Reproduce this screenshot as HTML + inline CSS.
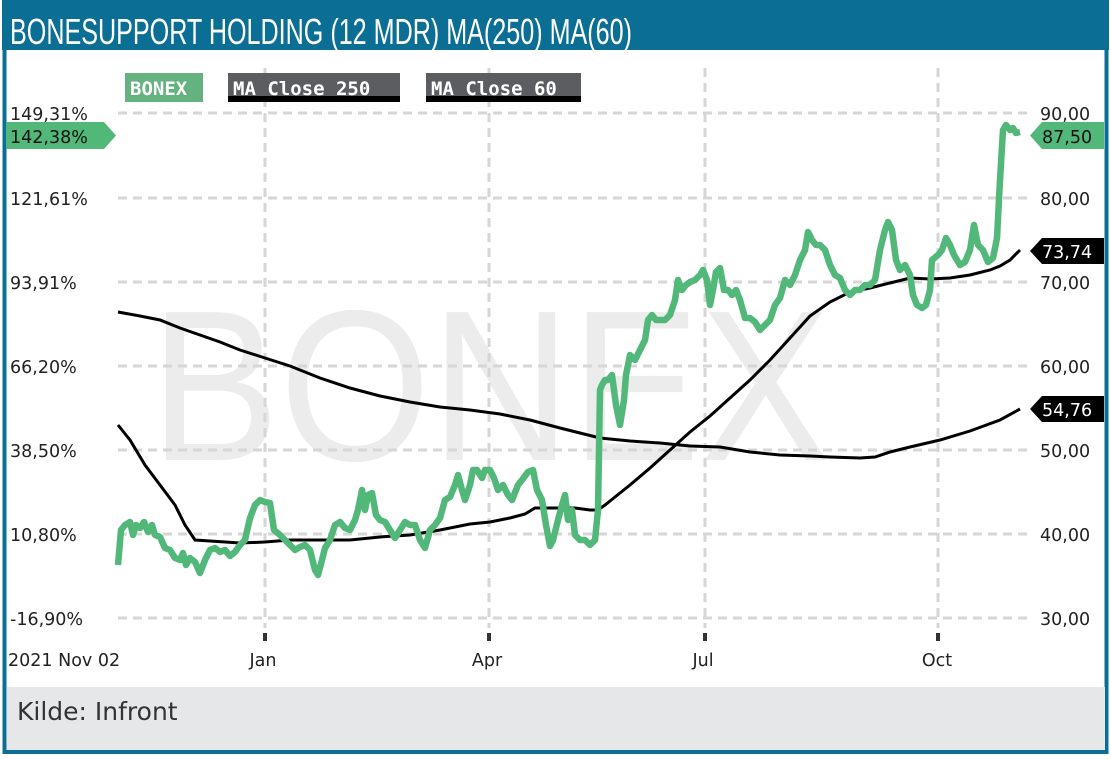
<!DOCTYPE html>
<html><head><meta charset="utf-8"><style>
body{margin:0;width:1111px;height:759px;background:#fff;overflow:hidden;font-family:"DejaVu Sans","Liberation Sans",sans-serif}
</style></head><body>
<svg width="1111" height="759" xmlns="http://www.w3.org/2000/svg" style="position:absolute;left:0;top:0">
<rect x="0" y="0" width="1111" height="759" fill="#fff"/>
<rect x="4.5" y="2" width="1102" height="750" fill="#fff" stroke="#0b6e94" stroke-width="4"/>
<rect x="2" y="0" width="1107" height="50" fill="#0b6e94"/>
<text x="10" y="44" fill="#fff" font-family="Liberation Sans Narrow, Liberation Sans, sans-serif" font-size="36" textLength="622" lengthAdjust="spacingAndGlyphs">BONESUPPORT HOLDING (12 MDR) MA(250) MA(60)</text>
<rect x="7" y="687" width="1098" height="63" fill="#e6e7e8"/>
<text x="17" y="720" font-size="25" fill="#333" font-family="DejaVu Sans, sans-serif">Kilde: Infront</text>
<text x="150" y="460" font-size="215" fill="#ececec" font-family="Liberation Sans, sans-serif" textLength="680" lengthAdjust="spacingAndGlyphs">BONEX</text>
<g stroke="#d6d6d6" stroke-width="3" stroke-dasharray="9,6">
<line x1="118" y1="113" x2="1028" y2="113"/><line x1="118" y1="198" x2="1028" y2="198"/><line x1="118" y1="282" x2="1028" y2="282"/><line x1="118" y1="366" x2="1028" y2="366"/><line x1="118" y1="450" x2="1028" y2="450"/><line x1="118" y1="534" x2="1028" y2="534"/><line x1="118" y1="618" x2="1028" y2="618"/>
<line x1="265" y1="68" x2="265" y2="628"/><line x1="489" y1="68" x2="489" y2="628"/><line x1="705" y1="68" x2="705" y2="628"/><line x1="938" y1="68" x2="938" y2="628"/>
</g>
<g fill="#333"><rect x="263" y="633" width="4" height="8"/><rect x="487" y="633" width="4" height="8"/><rect x="703" y="633" width="4" height="8"/><rect x="936" y="633" width="4" height="8"/></g>
<g font-size="17.5" fill="#222">
<text x="8" y="666">2021 Nov 02</text><text x="263" y="666" text-anchor="middle">Jan</text><text x="487" y="666" text-anchor="middle">Apr</text><text x="703" y="666" text-anchor="middle">Jul</text><text x="937" y="666" text-anchor="middle">Oct</text>
<text x="10" y="120">149,31%</text><text x="10" y="205">121,61%</text><text x="10" y="289">93,91%</text><text x="10" y="373">66,20%</text><text x="10" y="457">38,50%</text><text x="10" y="541">10,80%</text><text x="10" y="625">-16,90%</text>
<text x="1040" y="120">90,00</text><text x="1040" y="205">80,00</text><text x="1040" y="289">70,00</text><text x="1040" y="373">60,00</text><text x="1040" y="457">50,00</text><text x="1040" y="541">40,00</text><text x="1040" y="625">30,00</text>
</g>
<polyline fill="none" stroke="#000" stroke-width="3" points="118,312 140,316 160,320 180,328 200,335 220,342 240,350 265,358 290,366 320,378 350,388 380,396 410,402 440,407 470,410 500,414 530,420 560,428 580,433 600,438 630,441 660,443 690,446 720,447 750,452 780,455 810,456 830,457 860,458 875,457 890,452 910,447 940,440 970,431 1000,420 1020,409"/>
<polyline fill="none" stroke="#000" stroke-width="3" points="118,425 130,440 145,465 160,485 175,505 185,525 195,540 210,541 240,543 265,542 290,540 320,540 350,540 380,537 410,535 440,530 470,524 490,522 510,518 525,514 535,508 560,508 575,508 590,510 598,510 605,505 615,497 630,485 650,468 670,450 690,432 710,416 730,398 750,380 770,360 790,338 810,316 830,302 850,292 870,288 890,283 910,278 930,279 950,278 970,275 990,270 1000,266 1010,260 1020,250"/>
<polyline fill="none" stroke="#52b87a" stroke-width="6.5" stroke-linejoin="round" points="118,565 121,530 125,525 130,522 133,535 136,525 140,528 144,522 148,532 152,525 155,535 160,537 165,548 170,550 175,558 180,560 183,553 186,565 190,558 195,562 200,573 205,560 210,550 215,548 220,552 225,550 230,556 235,552 240,545 245,540 250,518 255,505 260,500 265,502 270,503 274,530 280,535 285,540 290,545 295,550 300,547 305,545 310,550 315,570 318,575 322,560 325,548 330,540 335,525 340,522 345,528 350,530 355,520 358,510 362,490 365,510 368,495 372,493 376,515 380,520 385,522 390,530 395,538 400,530 405,522 410,525 415,525 420,540 425,548 430,530 435,525 440,518 445,500 450,497 455,485 458,475 462,490 465,500 470,485 473,470 477,470 482,478 485,470 490,470 494,478 498,490 503,485 508,495 512,500 518,485 522,480 528,472 533,470 537,490 542,500 546,525 550,546 553,540 558,520 562,505 565,495 568,520 572,510 575,535 580,540 585,540 590,545 595,540 598,510 600,390 602,385 605,380 608,380 612,375 616,405 620,425 624,400 626,375 630,355 635,360 640,350 645,340 648,320 652,315 656,320 660,320 665,320 670,315 675,300 678,280 682,290 686,285 690,282 695,280 700,275 703,270 707,280 710,305 713,290 716,272 720,268 724,290 728,290 732,295 736,290 740,300 745,318 750,318 755,322 760,330 765,325 770,320 775,305 780,298 785,280 790,285 795,275 800,260 805,250 808,232 812,240 816,245 820,245 825,250 830,265 835,275 840,278 845,290 850,295 855,290 860,290 865,285 870,285 875,280 880,250 885,230 888,222 892,230 896,260 900,270 905,265 910,275 913,295 917,305 922,308 926,305 930,290 932,260 938,255 942,250 946,238 950,245 954,255 960,265 965,262 970,250 974,225 978,245 983,250 988,262 993,258 997,238 1000,180 1003,130 1006,125 1010,130 1013,128 1016,133 1020,132"/>
<polygon points="6,122 104,122 116,135.5 104,149 6,149" fill="#52b87a"/>
<text x="10" y="143" font-size="17.5" fill="#111">142,38%</text>
<polygon points="1030,135.5 1042,122 1104,122 1104,149 1042,149" fill="#52b87a"/>
<text x="1042" y="143" font-size="17.5" fill="#111">87,50</text>
<polygon points="1030,251 1042,238 1104,238 1104,264 1042,264" fill="#000"/>
<text x="1042" y="258" font-size="17.5" fill="#fff">73,74</text>
<polygon points="1030,409 1042,396 1104,396 1104,422 1042,422" fill="#000"/>
<text x="1042" y="416" font-size="17.5" fill="#fff">54,76</text>
<rect x="125" y="73" width="78" height="29" fill="#63b27f"/>
<text x="130" y="95" font-family="DejaVu Sans Mono, Liberation Mono, monospace" font-weight="bold" font-size="19" fill="#fff">BONEX</text>
<rect x="228" y="73" width="172" height="29" fill="#5b5d60"/><rect x="228" y="96" width="172" height="6" fill="#000"/>
<svg x="228" y="73" width="172" height="29"><text x="5" y="22" font-family="DejaVu Sans Mono, Liberation Mono, monospace" font-weight="bold" font-size="19" fill="#fff">MA Close 250</text></svg>
<rect x="426" y="73" width="155" height="29" fill="#5b5d60"/><rect x="426" y="96" width="155" height="6" fill="#000"/>
<svg x="426" y="73" width="155" height="29"><text x="5" y="22" font-family="DejaVu Sans Mono, Liberation Mono, monospace" font-weight="bold" font-size="19" fill="#fff">MA Close 60</text></svg>
</svg>
</body></html>
